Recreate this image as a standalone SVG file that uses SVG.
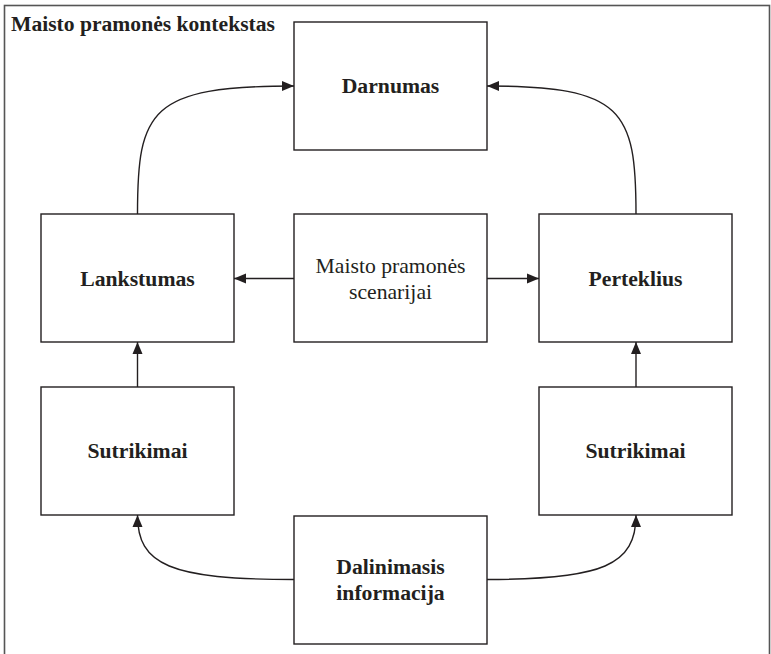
<svg xmlns="http://www.w3.org/2000/svg" width="771" height="654" viewBox="0 0 771 654">
  <style>
    .frame { fill: none; stroke: #555; stroke-width: 1.6; }
    .box { fill: #fff; stroke: #231f20; stroke-width: 1.4; }
    .lbl { font-family: "Liberation Serif", "Times New Roman", serif; font-size: 21.7px; fill: #231f20; text-anchor: middle; }
    .b { font-weight: bold; }
    .title { font-family: "Liberation Serif", "Times New Roman", serif; font-size: 21.6px; font-weight: bold; fill: #231f20; }
    .link { fill: none; stroke: #231f20; stroke-width: 1.4; marker-end: url(#arrow); }
  </style>
  <defs>
    <marker id="arrow" viewBox="0 0 12 11" refX="12" refY="5.5" markerWidth="12" markerHeight="11" markerUnits="userSpaceOnUse" orient="auto">
      <path d="M0,0.5 L12,5.5 L0,10.5 Z" fill="#231f20"/>
    </marker>
  </defs>

  <rect width="771" height="654" fill="#fff"/>

  <!-- context frame -->
  <g id="context">
    <rect class="frame" x="4.5" y="5.5" width="765" height="670"/>
    <text class="title" x="11" y="31">Maisto pramonės kontekstas</text>
  </g>

  <!-- connectors -->
  <g id="connectors">
    <path class="link" d="M137.5,214 C137.5,110 150,86 294,86"/>
    <path class="link" d="M636,214 C636,110 623,86 487,86"/>
    <path class="link" d="M294,278.5 L234,278.5"/>
    <path class="link" d="M487,278.5 L539,278.5"/>
    <path class="link" d="M137.5,387 L137.5,342"/>
    <path class="link" d="M636,387 L636,342"/>
    <path class="link" d="M294,579.5 C170,579.5 137.5,565 137.5,515"/>
    <path class="link" d="M487,579.5 C603,579.5 636,565 636,515"/>
  </g>

  <g id="darnumas">
    <rect class="box" x="294" y="22" width="193" height="128"/>
    <text class="lbl b" x="390.5" y="93">Darnumas</text>
  </g>

  <g id="lankstumas">
    <rect class="box" x="41" y="214" width="193" height="128"/>
    <text class="lbl b" x="137.5" y="285.5">Lankstumas</text>
  </g>

  <g id="scenarijai">
    <rect class="box" x="294" y="214" width="193" height="128"/>
    <text class="lbl" x="390.5" y="273">Maisto pramonės</text>
    <text class="lbl" x="390.5" y="299">scenarijai</text>
  </g>

  <g id="perteklius">
    <rect class="box" x="539" y="214" width="193" height="128"/>
    <text class="lbl b" x="635.5" y="285.5">Perteklius</text>
  </g>

  <g id="sutrikimai-left">
    <rect class="box" x="41" y="387" width="193" height="128"/>
    <text class="lbl b" x="137.5" y="458">Sutrikimai</text>
  </g>

  <g id="sutrikimai-right">
    <rect class="box" x="539" y="387" width="193" height="128"/>
    <text class="lbl b" x="635.5" y="458">Sutrikimai</text>
  </g>

  <g id="dalinimasis">
    <rect class="box" x="294" y="516" width="193" height="128"/>
    <text class="lbl b" x="390.5" y="574">Dalinimasis</text>
    <text class="lbl b" x="390.5" y="600">informacija</text>
  </g>
</svg>
